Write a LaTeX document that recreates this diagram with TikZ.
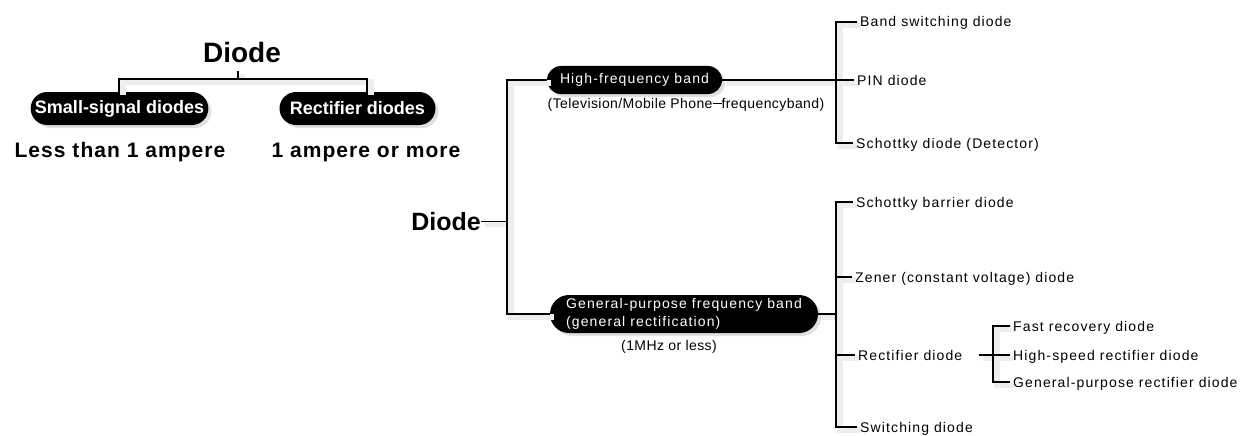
\documentclass[tikz,border=0pt]{standalone}
\usepackage{fontspec}
\setmainfont{Liberation Sans}
\usetikzlibrary{shapes.misc,shadows}
\begin{document}
\begin{tikzpicture}[x=1pt,y=-1pt,
  conn/.style={draw=black, line width=1.1pt,
    preaction={draw=gray!13, line width=6pt, transform canvas={xshift=4pt,yshift=-3pt}}},
  bigtitle/.style={font=\fontsize{28}{30}\selectfont\bfseries, inner sep=0pt, anchor=base},
  midtitle/.style={font=\fontsize{25}{28}\selectfont\bfseries, inner sep=0pt, anchor=base},
  amp/.style={font=\fontsize{21}{24}\selectfont\bfseries\addfontfeature{LetterSpace=5}, inner sep=0pt, anchor=base},
  boldpill/.style={rounded rectangle, fill=black, text=white, inner sep=2pt,
    font=\fontsize{18}{20}\selectfont\bfseries,
    drop shadow={shadow xshift=3pt, shadow yshift=-3pt, fill=gray!40, opacity=0.6}},
  pill/.style={rounded rectangle, fill=black, text=white, inner sep=2pt,
    font=\fontsize{14}{18}\selectfont\addfontfeature{LetterSpace=8},
    drop shadow={shadow xshift=3pt, shadow yshift=-3pt, fill=gray!40, opacity=0.6}},
  lbl/.style={font=\fontsize{14}{16}\selectfont\addfontfeature{LetterSpace=8},
    inner sep=3pt, anchor=west, text height=10pt, text depth=0pt},
  note/.style={font=\fontsize{14}{16}\selectfont\addfontfeature{LetterSpace=3}, inner sep=0pt}
]
\useasboundingbox (0,0) rectangle (1252,436);
\fill[white] (0,0) rectangle (1252,436);

% ---------- left small tree ----------
\node[bigtitle] (d1) at (242,63) {Diode};
\coordinate (jm) at (238,79);
\coordinate (jl) at (119,79);
\coordinate (jr) at (367,79);
\node[boldpill, minimum width=175pt, minimum height=33pt] (ss) at (119.5,108.5) {Small-signal diodes};
\node[boldpill, minimum width=160pt, minimum height=33pt] (rd) at (357.5,108.5) {Rectifier diodes};
\node[amp] (lt) at (120,157) {Less than 1 ampere};
\node[amp] (om) at (366,157) {1 ampere or more};
\draw[conn, shorten <=8pt] (d1.south -| jm) -- (jm);
\draw[conn] (jl |- ss.north) -- (jl) -- (jr) -- (jr |- rd.north);

% ---------- right big tree ----------
\node[midtitle] (d2) at (446,230) {Diode};
\coordinate (vx) at (507,0);
\node[pill, minimum width=179pt, minimum height=28pt] (hf) at (634.5,80) {High-frequency band};
\node[note] (hfn) at (686,105) {(Television/Mobile Phone\rule[0.32em]{9pt}{0.8pt}frequencyband)};
\node[pill, minimum width=272pt, minimum height=38pt, align=left] (gp) at (684,314)
  {General-purpose frequency band\\(general rectification)};
\node[note] (gpn) at (669,347) {(1MHz or less)};

\draw[conn] (d2.east) -- (d2.east -| vx);
\draw[conn] (hf.west) -- (hf.west -| vx) -- (gp.west -| vx) -- (gp.west);

% high-frequency bracket
\coordinate (b1) at (836,0);
\node[lbl] (bs)  at (857,22)  {Band switching diode};
\node[lbl] (pin) at (854,80)  {PIN diode};
\node[lbl] (sd)  at (853,143) {Schottky diode (Detector)};
\draw[conn] (hf.east) -- (hf.east -| b1);
\draw[conn] (bs.west) -- (bs.west -| b1) -- (sd.west -| b1) -- (sd.west);
\draw[conn] (pin.west -| b1) -- (pin.west);

% general-purpose bracket
\node[lbl] (sb)  at (853,202) {Schottky barrier diode};
\node[lbl] (zn)  at (852,277) {Zener (constant voltage) diode};
\node[lbl] (rc)  at (855,355) {Rectifier diode};
\node[lbl] (sw)  at (857,427) {Switching diode};
\draw[conn] (gp.east) -- (gp.east -| b1);
\draw[conn] (sb.west) -- (sb.west -| b1) -- (sw.west -| b1) -- (sw.west);
\draw[conn] (zn.west -| b1) -- (zn.west);
\draw[conn] (rc.west -| b1) -- (rc.west);

% rectifier sub-bracket
\coordinate (b2) at (993,0);
\node[lbl] (fr) at (1010,326) {Fast recovery diode};
\node[lbl] (hs) at (1010,355) {High-speed rectifier diode};
\node[lbl] (gr) at (1010,382) {General-purpose rectifier diode};
\draw[conn, shorten <=14pt] (rc.east) -- (rc.east -| b2);
\draw[conn] (fr.west) -- (fr.west -| b2) -- (gr.west -| b2) -- (gr.west);
\draw[conn] (hs.west -| b2) -- (hs.west);
\end{tikzpicture}
\end{document}
